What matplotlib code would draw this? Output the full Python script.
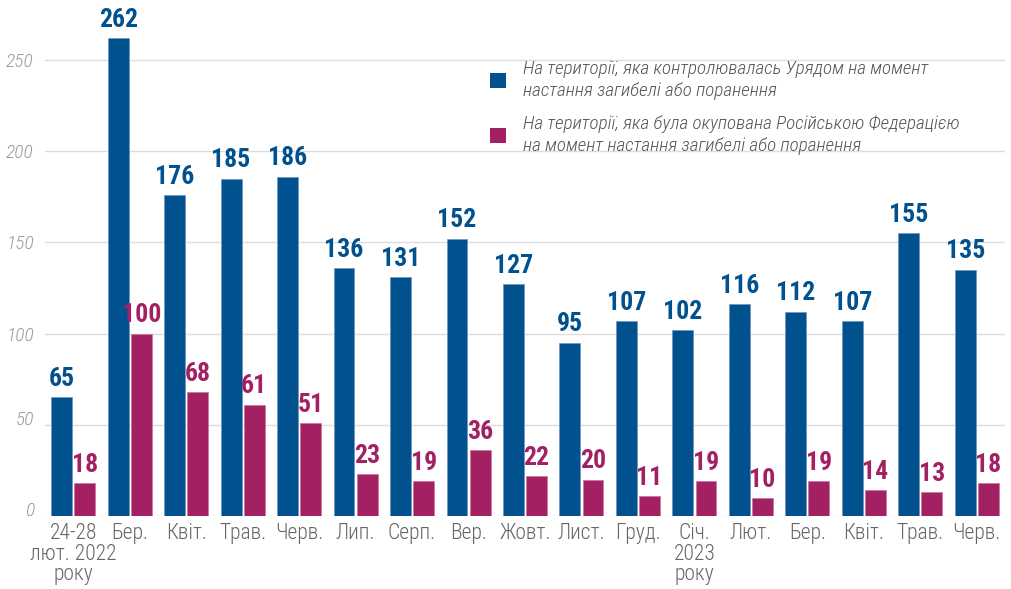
import matplotlib
matplotlib.use("Agg")
import matplotlib.pyplot as plt
import matplotlib.transforms as mtransforms
import numpy as np

categories = ["24-28\nлют. 2022\nроку", "Бер.", "Квіт.", "Трав.", "Черв.", "Лип.", "Серп.",
              "Вер.", "Жовт.", "Лист.", "Груд.", "Січ.\n2023\nроку", "Лют.", "Бер.",
              "Квіт.", "Трав.", "Черв."]
gov_values = [65, 262, 176, 185, 186, 136, 131, 152, 127, 95, 107, 102, 116, 112, 107, 155, 135]
occ_values = [18, 100, 68, 61, 51, 23, 19, 36, 22, 20, 11, 19, 10, 19, 14, 13, 18]
series_labels = ["На території, яка контролювалась Урядом на момент\nнастання загибелі або поранення",
                 "На території, яка була окупована Російською Федерацією\nна момент настання загибелі або поранення"]
yticks = [0, 50, 100, 150, 200, 250]

BLUE = "#00518E"
PINK = "#A32163"
FONT = ["Roboto Condensed", "Roboto", "DejaVu Sans"]
plt.rcParams["font.family"] = FONT

fig = plt.figure(figsize=(10.11, 5.89), dpi=100)
ax = fig.add_axes([45 / 1011, 73 / 589, 960 / 1011, (516 - 23.5) / 589])

x = np.arange(len(categories))
w = 0.37
off = 0.205
b1 = ax.bar(x - off, gov_values, w, color=BLUE, zorder=3, label=series_labels[0],
            edgecolor="#6f97bf", linewidth=0.5)
b2 = ax.bar(x + off, occ_values, w, color=PINK, zorder=3, label=series_labels[1],
            edgecolor="#c9739f", linewidth=0.5)

for xi, v in zip(x, gov_values):
    ax.annotate(str(v), (xi - off, v), xytext=(0, 4.5), textcoords="offset points",
                ha="center", va="bottom", color=BLUE, fontsize=18.5, fontweight="bold",
                annotation_clip=False)
for xi, v in zip(x, occ_values):
    ax.annotate(str(v), (xi + off, v), xytext=(0, 4.5), textcoords="offset points",
                ha="center", va="bottom", color=PINK, fontsize=18.5, fontweight="bold",
                annotation_clip=False)

ax.set_xlim(-0.5, len(categories) - 0.5)
ax.set_ylim(0, 270)
ax.set_yticks(yticks)
ax.set_yticklabels([str(t) for t in yticks], fontstyle="italic", color="#9a9a9a",
                   fontsize=14, fontweight="light")
ax.set_xticks(x)
ax.set_xticklabels(categories, color="#666666", fontsize=15.5, linespacing=0.98,
                   fontweight="light")
ax.tick_params(axis="both", length=0)
ax.tick_params(axis="y", pad=8)
ax.tick_params(axis="x", pad=5)
ax.grid(axis="y", color="#dddddd", linewidth=1, zorder=0)
for s in ax.spines.values():
    s.set_visible(False)

# small vertical shifts of the lowest y labels, as in the reference
shift_px = {0: 7, 50: 7}
for t, lab in zip(yticks, ax.get_yticklabels()):
    if t in shift_px:
        lab.set_transform(lab.get_transform() +
                          mtransforms.ScaledTranslation(0, shift_px[t] / 100, fig.dpi_scale_trans))

leg = ax.legend(handles=[b1, b2], labels=series_labels, loc="upper left",
                bbox_to_anchor=(473 / 1011, 1 - 43 / 589), bbox_transform=fig.transFigure,
                frameon=False, handlelength=0.8, handleheight=0.8, handletextpad=0.9,
                labelspacing=0.8, prop={"style": "italic", "size": 13.8, "weight": "light"})
for t in leg.get_texts():
    t.set_color("#555555")
    t.set_linespacing(1.25)
for h in leg.legend_handles:
    h.set_linewidth(0)

fig.savefig("out.png", dpi=100)
